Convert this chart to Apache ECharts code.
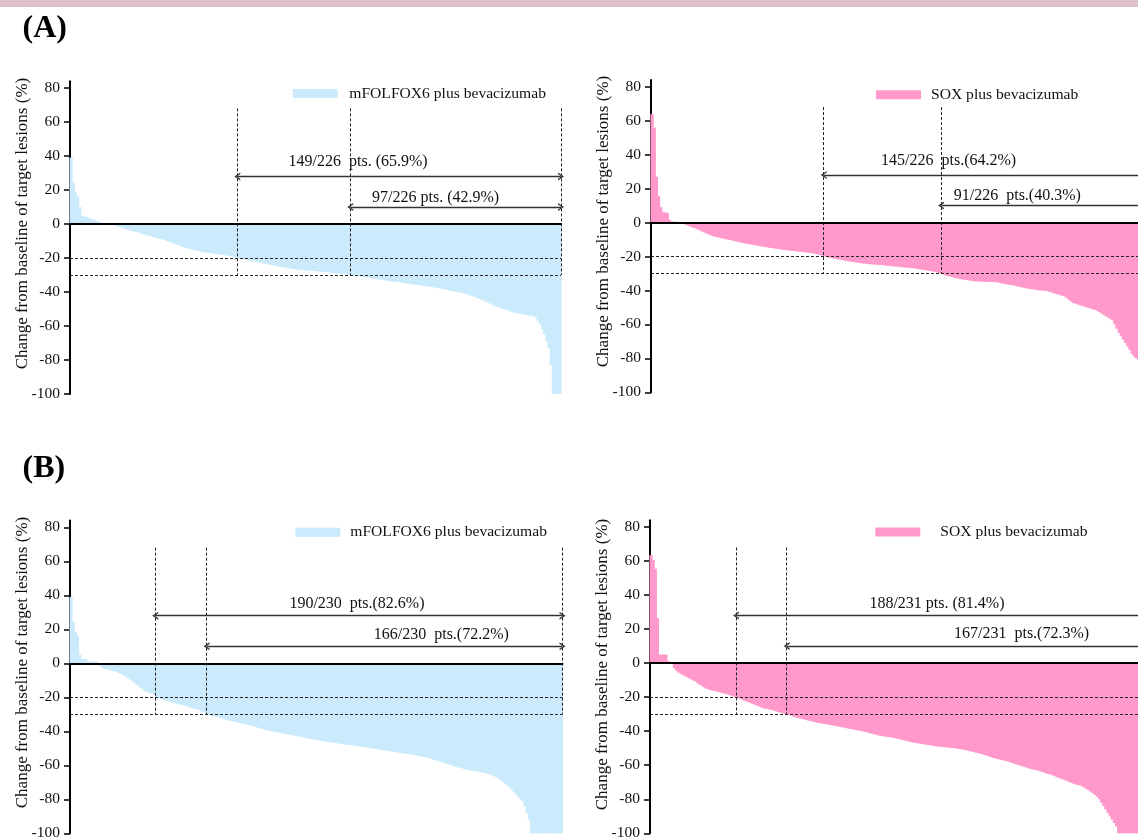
<!DOCTYPE html>
<html><head><meta charset="utf-8">
<script src="https://cdn.jsdelivr.net/npm/echarts@6/dist/echarts.min.js"></script>
<style>html,body{margin:0;padding:0;background:#fff}#c{width:1138px;height:840px}</style>
</head><body><div id="c"></div><script>
// ---------- DATA ----------
const yTicks = [-100, -80, -60, -40, -20, 0, 20, 40, 60, 80];
const thresholds = [-20, -30];
const arrowLevels = [28, 10];
const guideTop = 68;
const seriesNames = ['mFOLFOX6 plus bevacizumab', 'SOX plus bevacizumab'];

// (A) mFOLFOX6 plus bevacizumab, 226 pts
const mfolfoxA = [39,24.5,18.5,16.5,10,5,4.5,4,3.5,3,3,2,1.5,1,0.5,0.5,0,0,0,0,-0.5,-1,
-1.5,-2,-2.5,-3,-3.3,-3.6,-4,-4.3,-4.7,-5,-5.4,-5.8,-6.2,-6.5,-6.9,
-7.2,-7.6,-8,-8.3,-8.7,-9,-9.4,-9.8,
-10.3,-10.8,-11.3,-11.8,-12.3,-12.8,-13.3,-13.7,
-14.1,-14.5,-14.8,-15.1,-15.4,-15.7,-16,-16.3,
-16.5,-16.7,-16.9,-17.1,-17.3,-17.5,-17.6,-17.8,
-18,-18.2,-18.4,-18.6,-18.8,-19,-19.3,-19.6,
-20,-20.3,-20.6,-20.9,-21.2,-21.4,-21.6,
-21.9,-22.2,-22.5,-22.8,-23,-23.3,-23.5,
-23.8,-24.1,-24.3,-24.6,-24.9,-25.1,-25.3,-25.5,
-25.7,-26,-26.2,-26.4,-26.6,-26.8,-27,-27.1,
-27.2,-27.3,-27.4,-27.5,-27.6,-27.7,-27.8,-27.9,
-28,-28.1,-28.3,-28.4,-28.5,-28.7,-28.8,
-29,-29.1,-29.3,-29.4,-29.5,-29.6,-29.8,
-30,-30.2,-30.4,-30.6,-30.8,-31,-31.2,-31.4,
-31.6,-31.8,-32,-32.2,-32.4,-32.6,-32.8,-33,
-33.2,-33.4,-33.6,-33.8,-34,-34.1,-34.2,-34.4,
-34.6,-34.8,-35,-35.2,-35.4,-35.6,-35.7,-35.9,
-36.1,-36.3,-36.5,-36.7,-36.9,-37.1,-37.3,-37.5,
-37.7,-37.9,-38.2,-38.5,-38.8,-39,-39.3,
-39.5,-39.8,-40,-40.3,-40.6,-40.9,-41.2,-41.6,
-42,-42.5,-43,-43.5,-44,-44.5,-45,
-45.6,-46.2,-46.8,-47.4,-48,-48.5,-49,-49.5,
-50,-50.4,-50.8,-51.2,-51.6,-52,-52.3,-52.6,
-52.9,-53.2,-53.4,-53.6,-53.8,-54,-54.2,
-55,-57,-59,-62,-65,-69,-73,-83,
-100,-100,-100,-100];

// (A) SOX plus bevacizumab, 226 pts
const soxA = [64,56,27,15.5,9,6,6,5.5,1.5,0.5,0.5,0,0,0,
-0.5,-1,-1.5,-2,-2.5,-3,-3.4,
-4,-4.6,-5.2,-5.8,-6.4,-7,-7.5,-7.9,
-8.3,-8.6,-8.9,-9.2,-9.5,-9.8,-10.1,-10.3,
-10.6,-10.9,-11.2,-11.5,-11.8,-12.1,-12.4,-12.6,
-12.8,-13,-13.3,-13.5,-13.7,-13.9,-14.2,
-14.4,-14.6,-14.8,-15,-15.2,-15.4,-15.6,-15.8,
-16,-16.1,-16.3,-16.4,-16.6,-16.7,-16.9,-17,
-17.2,-17.3,-17.5,-17.6,-17.8,-17.9,-18.1,
-18.4,-18.7,-19,-19.3,-19.7,
-20.1,-20.5,-20.8,-21,-21.3,-21.5,-21.8,-22,-22.2,-22.5,
-22.7,-22.9,-23.1,-23.3,-23.5,-23.7,-23.9,-24.1,
-24.2,-24.3,-24.5,-24.6,-24.7,-24.8,-24.9,-25,
-25.1,-25.3,-25.4,-25.5,-25.7,-25.8,-25.9,-26,
-26.1,-26.3,-26.4,-26.5,-26.7,-26.8,-26.9,-27.1,
-27.3,-27.5,-27.7,-27.9,-28.1,-28.3,-28.4,
-28.7,-29,-29.3,-29.6,-30,-30.5,-31,
-31.4,-31.8,-32.1,-32.4,-32.7,-33,-33.3,-33.5,
-33.7,-33.9,-34.1,-34.3,-34.5,-34.6,-34.7,-34.8,
-34.8,-34.9,-34.9,-35,-35,-35.1,-35.1,-35.2,
-35.5,-35.8,-36.1,-36.3,-36.5,-36.7,-36.9,-37.2,
-37.5,-37.8,-38.1,-38.4,-38.7,-38.9,-39.1,
-39.3,-39.5,-39.7,-39.9,-40,-40.1,-40.2,-40.4,
-40.8,-41.2,-41.6,-42,-42.4,-42.8,-43.2,-43.6,
-44.5,-45.5,-46.5,-47.5,-47.8,-48.2,-48.7,
-49.1,-49.5,-49.9,-50.3,-50.7,-51.1,-51.5,-52,
-52.8,-53.6,-54.4,-55.2,-56,-56.8,-57.6,
-60,-62.5,-65,-67,-69,-71,-73,
-75,-77.5,-79,-80,-81,-82];

// (B) mFOLFOX6 plus bevacizumab, 230 pts
const mfolfoxB = [39,24.5,18.5,16.5,5,2.5,2.5,2.5,1,1,1,1,1,0,
-2,-3,-3.3,-3.6,-4,-4.3,-4.6,-4.9,
-5.5,-6,-6.6,-7.2,-7.8,
-8.8,-9.8,-10.8,-11.8,-12.8,-13.7,
-14.7,-15.7,-16.7,-17.2,-17.6,-18,-18.6,
-20,-20.4,-20.8,-21.2,-21.6,
-22,-22.4,-22.8,-23.2,-23.6,-24,-24.3,-24.5,
-24.9,-25.3,-25.7,-26.1,-26.5,-26.8,-27.1,-27.5,
-28.2,-28.8,-29.4,
-30,-30.4,-30.8,-31.1,-31.4,
-31.8,-32.2,-32.6,-33,-33.4,-33.8,-34.1,-34.3,
-34.6,-34.9,-35.2,-35.5,-35.8,-36,-36.3,-36.6,
-36.9,-37.3,-37.7,-38.1,-38.5,-38.8,-39.2,-39.5,
-39.8,-40.1,-40.3,-40.5,-40.8,-41,-41.2,-41.5,
-41.7,-42,-42.2,-42.5,-42.7,-42.9,-43.1,-43.4,
-43.7,-44,-44.2,-44.5,-44.8,-45,-45.2,
-45.4,-45.6,-45.8,-46,-46.2,-46.4,-46.6,-46.8,
-47,-47.2,-47.4,-47.6,-47.8,-47.9,-48,-48.2,
-48.4,-48.6,-48.8,-49,-49.1,-49.3,-49.5,-49.7,
-49.9,-50.1,-50.3,-50.5,-50.7,-50.9,-51.1,-51.3,
-51.5,-51.7,-51.9,-52.1,-52.3,-52.5,-52.7,-52.9,
-53.1,-53.3,-53.5,-53.7,-53.9,-54.1,-54.3,-54.6,
-54.9,-55.2,-55.5,-55.8,-56.1,-56.5,-56.9,
-57.3,-57.7,-58.1,-58.5,-58.9,-59.3,-59.7,-60.1,
-60.5,-60.9,-61.3,-61.6,-61.9,-62.2,-62.5,-62.8,
-63.1,-63.3,-63.5,-63.7,-63.9,-64.1,-64.4,
-64.8,-65.2,-65.6,-66,-66.6,-67.2,-68,
-69,-70,-71,-72,-73,-74.5,-76,
-77,-78.5,-80,-81,-84,-88,-92,
-100,-100,-100,-100,-100,-100,-100,-100,-100,-100,-100,-100,-100,-100,-100];

// (B) SOX plus bevacizumab, 231 pts
const soxB = [63.5,60.5,55.5,26.5,5,5,5,5,1.2,0.3,
-0.5,-3,-4.5,-5.5,-6.2,-7,-7.6,
-8.2,-8.9,-9.6,-10.2,-10.8,
-11.8,-12.6,-13.4,-14.2,-14.9,-15.4,-15.8,
-16.1,-16.4,-16.7,-17,-17.3,-17.6,
-18,-18.4,-18.8,-19.2,-19.6,-20,
-20.5,-21,-21.5,-22,-22.5,
-23,-23.5,-24,-24.5,-25,-25.5,-26,-26.5,
-26.8,-27,-27.2,-27.5,
-27.9,-28.3,-28.7,-29.1,-29.4,-29.7,-30,
-30.4,-30.8,-31.3,-31.8,
-32.1,-32.4,-32.7,-33,-33.4,-33.7,-34,-34.3,
-34.6,-34.9,-35.2,-35.4,-35.6,-35.8,-36,-36.3,
-36.5,-36.7,-36.9,-37.2,-37.4,-37.7,-37.9,-38.2,
-38.4,-38.7,-38.9,-39.2,-39.4,-39.7,-39.9,-40.2,
-40.5,-40.8,-41.1,-41.4,-41.8,-42.1,-42.4,-42.7,
-42.9,-43.1,-43.3,-43.5,-43.7,-43.9,-44.1,-44.4,
-44.7,-45,-45.3,-45.6,-45.9,-46.2,-46.5,-46.8,
-47,-47.2,-47.4,-47.6,-47.8,-48,-48.2,-48.4,
-48.6,-48.8,-49,-49.1,-49.2,-49.4,-49.5,-49.7,
-49.8,-49.9,-50,-50.2,-50.4,-50.6,-50.8,-51.1,
-51.4,-51.7,-52,-52.3,-52.6,-52.9,-53.2,
-53.6,-54,-54.4,-54.8,-55.2,-55.6,-56,-56.3,
-56.6,-56.9,-57.2,-57.5,-57.9,-58.3,-58.7,-59.1,
-59.5,-59.9,-60.3,-60.7,-61.1,-61.5,-61.9,-62.2,
-62.5,-62.8,-63.1,-63.5,-63.9,-64.3,-64.7,-65.1,
-65.5,-65.9,-66.4,-66.9,-67.4,-67.9,-68.4,-68.9,
-69.4,-69.9,-70.4,-70.9,-71.3,-71.6,-71.9,-72.5,
-73.2,-74,-74.8,-75.6,-76.5,-77.5,-78.5,-80,
-82,-84,-86,-88,-90,-92,-94,-96,
-100,-100,-100,-100,-100,-100,-100,-100,-100,-100,-100];

const annotTextsAL = ['149/226  pts. (65.9%)', '97/226 pts. (42.9%)'];
const annotTextsAR = ['145/226  pts.(64.2%)', '91/226  pts.(40.3%)'];
const annotTextsBL = ['190/230  pts.(82.6%)', '166/230  pts.(72.2%)'];
const annotTextsBR = ['188/231 pts. (81.4%)', '167/231  pts.(72.3%)'];

// ---------- LAYOUT / STYLE ----------
const FONT = '"Liberation Serif","Times New Roman",Times,serif';
const BLUE = '#cbebfc';
const PINK = '#ff99cb';
const TXT = '#111111';
const ARROW = 'path://M0,10 L5,0 L10,10 L8,10 L5,3.8 L2,10 Z';

const panels = [
  { values: mfolfoxA, name: seriesNames[0], color: BLUE, texts: annotTextsAL,
    grid: { left: 70, top: 81.2, width: 491, height: 312.8 },
    guideX: [77, 129], labelPos: [[132.6, 36.3], [168.3, 15.3]],
    legend: { left: 292.7, top: 85.5, gap: 11.6 }, yName: [23, 223.5] },
  { values: soxA, name: seriesNames[1], color: PINK, texts: annotTextsAR,
    grid: { left: 651, top: 79.9, width: 491, height: 312.4 },
    guideX: [79.5, 133.5], labelPos: [[137, 36.3], [168.6, 15.7]],
    legend: { left: 876, top: 86.8, gap: 10 }, yName: [603.5, 221.5] },
  { values: mfolfoxB, name: seriesNames[0], color: BLUE, texts: annotTextsBL,
    grid: { left: 70, top: 520.5, width: 492.5, height: 312.8 },
    guideX: [39.8, 63.8], labelPos: [[134, 34.9], [173.4, 17]],
    legend: { left: 295.3, top: 524.2, gap: 10 }, yName: [23, 662.5] },
  { values: soxB, name: seriesNames[1], color: PINK, texts: annotTextsBR,
    grid: { left: 650, top: 520.2, width: 491, height: 313.1 },
    guideX: [40.5, 64.3], labelPos: [[135, 34.9], [174.8, 17]],
    legend: { left: 875.3, top: 524, gap: 20 }, yName: [603, 664.5] }
];

const chart = echarts.init(document.getElementById('c'), null, { renderer: 'canvas' });

const grids = [], xAxes = [], yAxes = [], series = [], legends = [], graphics = [];

graphics.push({ type: 'rect', left: 0, top: 0, shape: { width: 1138, height: 7 }, style: { fill: '#dcc1cb' }, silent: true });
graphics.push({ type: 'text', left: 22.5, top: 13, style: { text: '(A)', font: 'bold 32px ' + FONT, fill: '#000' }, silent: true });
graphics.push({ type: 'text', left: 22.5, top: 453, style: { text: '(B)', font: 'bold 32px ' + FONT, fill: '#000' }, silent: true });

panels.forEach((p, i) => {
  const N = p.values.length;
  grids.push(Object.assign({ containLabel: false, outerBoundsMode: 'none' }, p.grid));
  xAxes.push({
    gridIndex: i, type: 'value', min: 0, max: N, z: 6,
    axisLine: { show: true, onZero: true, lineStyle: { color: '#000', width: 2 } },
    axisTick: { show: false }, axisLabel: { show: false }, splitLine: { show: false }
  });
  yAxes.push({
    gridIndex: i, type: 'value', min: -100, max: 84, interval: 20,
    axisLine: { show: true, onZero: false, lineStyle: { color: '#000', width: 2 } },
    axisTick: { show: true, length: 6, customValues: yTicks, lineStyle: { color: '#000', width: 1.5 } },
    axisLabel: { customValues: yTicks, margin: 10, fontFamily: FONT, fontSize: 15.5, color: TXT,
      formatter: v => (v % 20 === 0 ? String(v) : '') },
    splitLine: { show: false }
  });

  const dashed = { color: '#222', width: 1, type: [3, 2] };
  const guideLines = [];
  p.guideX.concat([N]).forEach(x => {
    guideLines.push([{ coord: [x, guideTop] }, { coord: [x, thresholds[1]] }]);
  });
  thresholds.forEach(t => guideLines.push([{ coord: [0, t] }, { coord: [N, t] }]));

  series.push({
    type: 'bar', name: p.name, xAxisIndex: i, yAxisIndex: i,
    data: p.values.map((v, k) => [k + 0.5, v]),
    barWidth: '150%',
    itemStyle: { color: p.color },
    emphasis: { disabled: true }, silent: true, animation: false, z: 2,
    markLine: {
      silent: true, symbol: 'none', animation: false, z: 4,
      label: { show: false }, emphasis: { disabled: true },
      lineStyle: dashed, data: guideLines
    }
  });

  series.push({
    type: 'scatter', name: 'annot' + i, xAxisIndex: i, yAxisIndex: i,
    symbol: 'circle', symbolSize: 1, itemStyle: { color: 'rgba(255,255,255,0)' },
    silent: true, animation: false, z: 8,
    data: p.texts.map((t, k) => ({ name: t, value: p.labelPos[k] })),
    label: { show: true, position: 'inside', formatter: '{b}', fontFamily: FONT, fontSize: 16,
      color: TXT, opacity: 1, textBorderWidth: 0, textBorderColor: 'transparent', textShadowBlur: 0 },
    markLine: {
      silent: true, animation: false, z: 5,
      symbol: [ARROW, ARROW], symbolSize: [8, 6],
      label: { show: false }, emphasis: { disabled: true },
      lineStyle: { color: '#333', width: 1.3, type: 'solid' },
      data: arrowLevels.map((lv, k) => [{ coord: [p.guideX[k], lv] }, { coord: [N, lv] }])
    }
  });

  legends.push({
    left: p.legend.left, top: p.legend.top, padding: 0, itemGap: 0,
    data: [p.name], icon: 'rect', itemWidth: 45, itemHeight: 9, selectedMode: false,
    textStyle: { fontFamily: FONT, fontSize: 15.6, color: TXT, padding: [0, 0, 0, p.legend.gap - 5] }
  });

  graphics.push({
    type: 'text', x: p.yName[0], y: p.yName[1], rotation: Math.PI / 2,
    style: { text: 'Change from baseline of target lesions (%)', font: '17px ' + FONT, fill: TXT,
      textAlign: 'center', textVerticalAlign: 'middle' }, silent: true
  });
});

chart.setOption({
  animation: false,
  backgroundColor: '#fff',
  grid: grids, xAxis: xAxes, yAxis: yAxes, series: series, legend: legends,
  graphic: graphics
});
</script></body></html>
